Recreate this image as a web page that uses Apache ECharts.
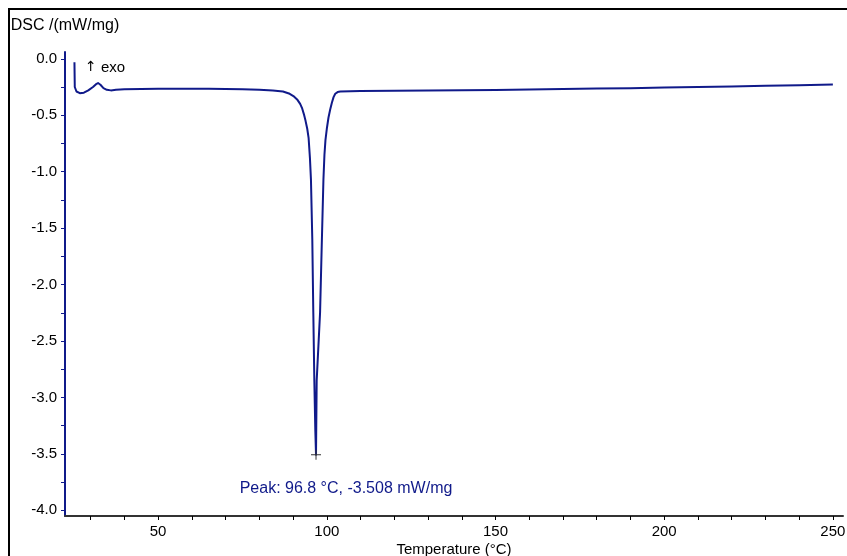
<!DOCTYPE html>
<html>
<head>
<meta charset="utf-8">
<script src="https://cdn.jsdelivr.net/npm/echarts@6/dist/echarts.min.js"></script>
<style>
  html, body { margin: 0; padding: 0; background: #fff; }
  #main { width: 847px; height: 556px; }
</style>
</head>
<body>
<div id="main"></div>
<script>
// 温度 (°C)
var temps = [25.2, 25.3, 25.8, 26.8, 28.0, 29.3, 30.7, 31.6, 32.2, 32.9, 33.8, 34.8, 36.0, 37.5,
  40, 45, 50, 55, 60, 65, 70, 75, 80, 84, 87, 89, 90.1, 91.2, 92.1, 92.7, 93.2, 93.7, 94.2, 94.6, 95.0, 95.3,
  95.7, 96.0, 96.3, 96.6, 96.8, 97.0, 97.5, 98.0, 98.5, 99.0, 99.3, 99.6, 100.0, 100.5, 101.0, 101.5, 102.0,
  102.5, 103.2, 104, 107, 110, 120, 130, 140, 150, 160, 170, 180, 190, 200, 210, 220, 230, 240, 250];
// DSC 信号 (mW/mg)
var dsc = [-0.03, -0.25, -0.29, -0.305, -0.30, -0.28, -0.25, -0.225, -0.215, -0.23, -0.26, -0.275, -0.28, -0.275,
  -0.27, -0.268, -0.265, -0.265, -0.265, -0.266, -0.267, -0.27, -0.275, -0.282, -0.29, -0.31, -0.33, -0.36, -0.40,
  -0.44, -0.49, -0.55, -0.62, -0.70, -0.88, -1.07,
  -1.6, -2.25, -2.85, -3.3, -3.508, -2.85, -2.55, -2.25, -1.65, -1.07, -0.85, -0.72, -0.62, -0.52, -0.45, -0.39,
  -0.34, -0.31, -0.295,
  -0.29, -0.287, -0.285, -0.284, -0.282, -0.279, -0.276, -0.272, -0.268, -0.264, -0.26, -0.255, -0.25, -0.245,
  -0.24, -0.234, -0.228];
// 峰值
var peak = [96.8, -3.508];
// 刻度
var xLabels = [50, 100, 150, 200, 250];
var xTicks = [30, 40, 50, 60, 70, 80, 90, 100, 110, 120, 130, 140, 150, 160, 170, 180, 190, 200, 210, 220, 230, 240, 250];
var yLabels = [-4.0, -3.5, -3.0, -2.5, -2.0, -1.5, -1.0, -0.5, 0.0];
var yTicks = [-4.0, -3.75, -3.5, -3.25, -3.0, -2.75, -2.5, -2.25, -2.0, -1.75, -1.5, -1.25, -1.0, -0.75, -0.5, -0.25, 0.0];

var lineColor = '#101a8a';
var font = '"Liberation Sans", Arial, sans-serif';

var seriesData = [];
for (var i = 0; i < temps.length; i++) {
    seriesData.push([temps[i], dsc[i]]);
}

var chart = echarts.init(document.getElementById('main'));
var option = {
    animation: false,
    backgroundColor: '#fff',
    grid: {
        left: 65,
        right: 4,
        top: 52,
        bottom: 40,
        outerBoundsMode: 'none'
    },
    graphic: [
        {
            type: 'rect',
            shape: { x: 9, y: 9, width: 900, height: 600 },
            style: { fill: 'none', stroke: '#000', lineWidth: 2 },
            silent: true
        },
        {
            type: 'text',
            left: 85,
            top: 60,
            style: {
                text: '{a|↑} exo',
                fill: '#000',
                font: '15px ' + font,
                rich: {
                    a: { fontFamily: '"DejaVu Sans"', fontSize: 14, fill: '#000' }
                }
            }
        }
    ],
    xAxis: {
        type: 'value',
        min: 22.4,
        max: 253,
        name: 'Temperature (°C)',
        nameLocation: 'middle',
        nameGap: 26,
        nameMoveOverlap: false,
        nameTextStyle: { color: '#000', fontSize: 15, fontFamily: font },
        axisLine: { onZero: false, lineStyle: { color: '#333', width: 2 } },
        axisTick: { customValues: xTicks, length: 4, lineStyle: { color: '#000' } },
        axisLabel: {
            customValues: xLabels,
            color: '#000',
            fontSize: 15,
            fontFamily: font,
            margin: 8
        },
        splitLine: { show: false }
    },
    yAxis: {
        type: 'value',
        min: -4.05,
        max: 0.06,
        name: 'DSC /(mW/mg)',
        nameLocation: 'end',
        nameGap: 18,
        nameMoveOverlap: false,
        nameTextStyle: { color: '#000', fontSize: 16, fontFamily: font },
        axisLine: { show: true, onZero: false, lineStyle: { color: lineColor, width: 2 } },
        axisTick: { customValues: yTicks, length: 4, lineStyle: { color: lineColor } },
        axisLabel: {
            customValues: yLabels,
            color: '#000',
            fontSize: 15,
            fontFamily: font,
            margin: 8,
            formatter: function (v) { return v.toFixed(1); }
        },
        splitLine: { show: false }
    },
    series: [
        {
            name: 'DSC',
            type: 'line',
            data: seriesData,
            showSymbol: false,
            symbol: 'none',
            lineStyle: { color: lineColor, width: 2, join: 'round' },
            z: 2
        },
        {
            name: 'Peak',
            type: 'scatter',
            data: [peak],
            symbol: 'path://M0,4.5h10v1h-10z M4.5,0h1v10h-1z',
            symbolSize: 10,
            itemStyle: { color: '#333', opacity: 1 },
            z: 3,
            label: {
                show: true,
                position: 'inside',
                offset: [30, 34],
                formatter: 'Peak: 96.8 °C, -3.508 mW/mg',
                color: lineColor,
                fontSize: 16,
                fontFamily: font
            }
        }
    ]
};
chart.setOption(option);
</script>
</body>
</html>
